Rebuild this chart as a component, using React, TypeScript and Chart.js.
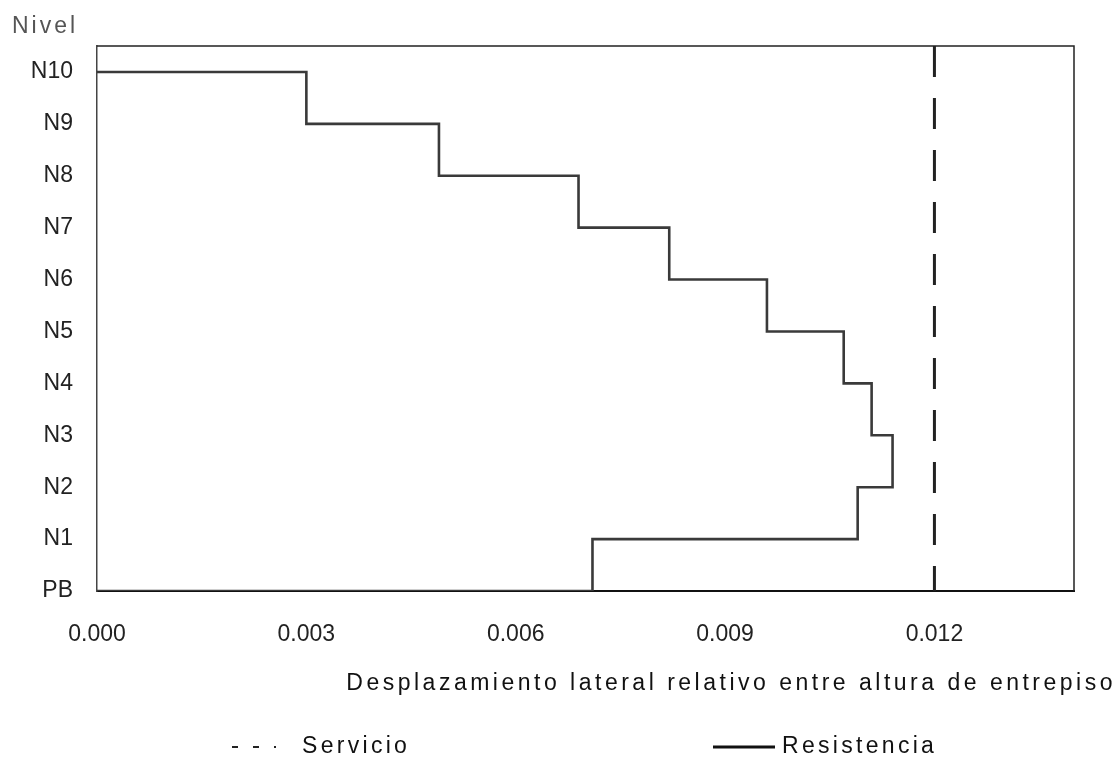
import { useEffect, useRef } from 'react';
import { Chart, registerables } from 'chart.js';

Chart.register(...registerables);

// ---- data ----
const levelLabels = ['PB', 'N1', 'N2', 'N3', 'N4', 'N5', 'N6', 'N7', 'N8', 'N9', 'N10'];
// inter-story drift ratio for stories 1..10 (Resistencia)
const storyDrift = [0.0071, 0.0109, 0.0114, 0.0111, 0.0107, 0.0096, 0.0082, 0.0069, 0.0049, 0.0030];
const serviceLimit = 0.012;
const xTickValues = [0, 0.003, 0.006, 0.009, 0.012];
const xMin = 0;
const xMax = 0.014;
const yMin = 0;
const yMax = 10.5;
const xTitle = 'Desplazamiento lateral relativo entre altura de entrepiso';
const yTitle = 'Nivel';
const seriesNames = ['Servicio', 'Resistencia'];

const FONT = '"Liberation Sans", Arial, sans-serif';

function buildResistance() {
  const pts: { x: number; y: number }[] = [{ x: 0, y: 0 }];
  storyDrift.forEach((d, i) => {
    pts.push({ x: d, y: i });
    pts.push({ x: d, y: i + 1 });
  });
  pts.push({ x: 0, y: storyDrift.length });
  return pts;
}

const extrasPlugin = {
  id: 'extras',
  afterDraw(chart: any) {
    const ctx = chart.ctx as CanvasRenderingContext2D;
    const { left, right, top, bottom } = chart.chartArea;
    ctx.save();
    // frame (top / right)
    ctx.strokeStyle = '#222';
    ctx.lineWidth = 1.5;
    ctx.beginPath();
    ctx.moveTo(left, top);
    ctx.lineTo(right, top);
    ctx.lineTo(right, bottom);
    ctx.stroke();

    ctx.font = `23px ${FONT}`;
    (ctx as any).letterSpacing = '3px';
    ctx.textBaseline = 'middle';

    // y title
    ctx.fillStyle = '#555';
    ctx.textAlign = 'left';
    ctx.fillText(yTitle, 12, 27);

    // x title
    ctx.fillStyle = '#111';
    ctx.textAlign = 'right';
    (ctx as any).letterSpacing = '3.5px';
    ctx.fillText(xTitle, 1116, 684);

    // legend
    (ctx as any).letterSpacing = '3.3px';
    ctx.textAlign = 'left';
    const ly = 747;
    ctx.strokeStyle = '#222';
    ctx.lineWidth = 2;
    ctx.setLineDash([6, 15]);
    ctx.beginPath();
    ctx.moveTo(232, ly);
    ctx.lineTo(276, ly);
    ctx.stroke();
    ctx.setLineDash([]);
    ctx.fillStyle = '#111';
    ctx.fillText(seriesNames[0], 302, ly);

    ctx.lineWidth = 3;
    ctx.strokeStyle = '#111';
    ctx.beginPath();
    ctx.moveTo(713, ly);
    ctx.lineTo(775, ly);
    ctx.stroke();
    ctx.fillText(seriesNames[1], 782, ly);
    ctx.restore();
  },
};

export default function App() {
  const ref = useRef<HTMLCanvasElement | null>(null);
  useEffect(() => {
    if (!ref.current) return;
    const chart = new Chart(ref.current, {
      type: 'scatter',
      data: {
        datasets: [
          {
            label: seriesNames[0],
            data: [
              { x: serviceLimit, y: yMax },
              { x: serviceLimit, y: yMin },
            ],
            showLine: true,
            borderColor: '#222',
            borderWidth: 3,
            borderDash: [31, 21],
            pointRadius: 0,
            clip: false as any,
          },
          {
            label: seriesNames[1],
            data: buildResistance(),
            showLine: true,
            borderColor: '#3a3a3a',
            borderWidth: 2.6,
            pointRadius: 0,
            tension: 0,
          },
        ],
      },
      options: {
        responsive: false,
        animation: false,
        events: [],
        layout: { padding: { left: 0, top: 46, right: 46, bottom: 0 } },
        plugins: {
          legend: { display: false },
          tooltip: { enabled: false },
          title: { display: false },
        },
        scales: {
          x: {
            type: 'linear',
            min: xMin,
            max: xMax,
            grid: { display: false, drawTicks: false },
            border: { display: true, color: '#111', width: 2 },
            ticks: {
              autoSkip: false,
              padding: 30,
              color: '#222',
              font: { family: FONT, size: 23 },
              maxRotation: 0,
              callback: (v: any) => Number(v).toFixed(3),
            },
            afterBuildTicks: (scale: any) => {
              scale.ticks = xTickValues.map((v) => ({ value: v }));
            },
            afterFit: (scale: any) => {
              scale.height = 168;
            },
          },
          y: {
            type: 'linear',
            min: yMin,
            max: yMax,
            grid: { display: false, drawTicks: false },
            border: { display: true, color: '#444', width: 1.5 },
            ticks: {
              autoSkip: false,
              padding: 24,
              color: '#222',
              font: { family: FONT, size: 23 },
              callback: (v: any) => levelLabels[Math.round(Number(v))] ?? '',
            },
            afterBuildTicks: (scale: any) => {
              scale.ticks = levelLabels.map((_, i) => ({ value: i }));
            },
            afterFit: (scale: any) => {
              scale.width = 97;
            },
          },
        },
      },
      plugins: [extrasPlugin],
    });
    return () => chart.destroy();
  }, []);
  return (
    <div style={{ position: 'fixed', left: 0, top: 0, width: 1120, height: 759, background: '#fff' }}>
      <canvas ref={ref} width={1120} height={759} style={{ display: 'block', width: 1120, height: 759 }} />
    </div>
  );
}
